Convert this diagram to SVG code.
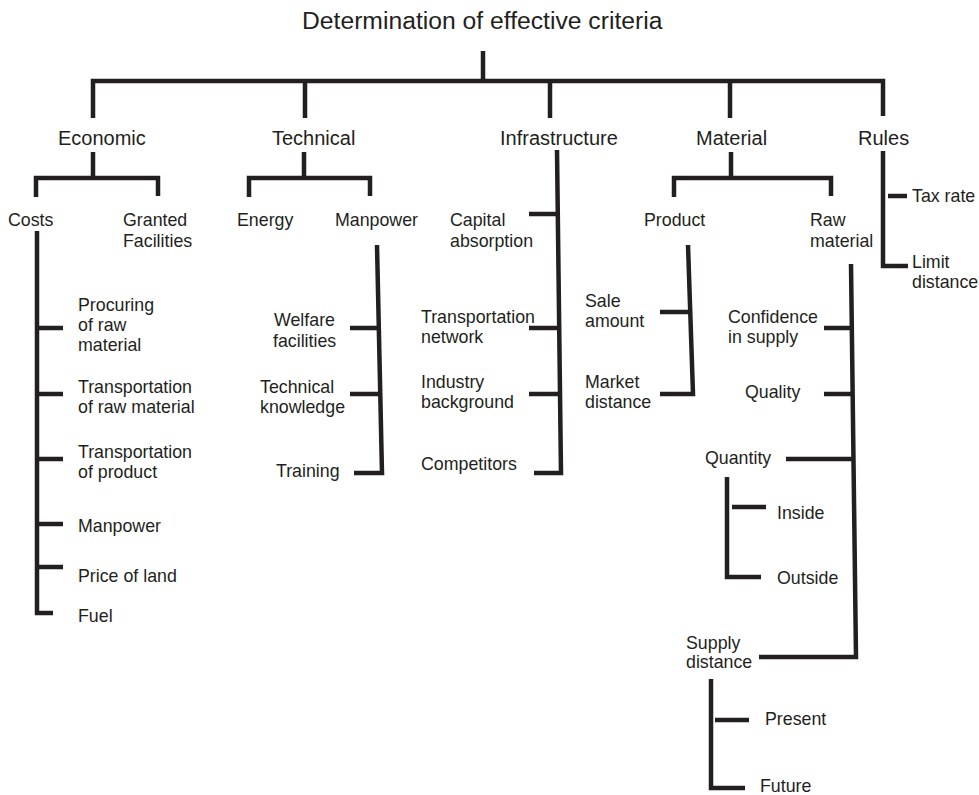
<svg xmlns="http://www.w3.org/2000/svg" width="979" height="795" viewBox="0 0 979 795">
<style>
text{font-family:"Liberation Sans",Arial,sans-serif;font-size:17.8px;fill:#231f20}
.t{font-size:24.7px}
.c{font-size:20px}
#connectors path{fill:none;stroke:#231f20;stroke-width:4.5;stroke-linejoin:miter;stroke-linecap:butt}
</style>
<rect width="979" height="795" fill="#fff"/>
<g id="connectors">
<path d="M483,51 V81"/>
<path d="M93,118 V81 H883 V116"/>
<path d="M305,81 V118"/>
<path d="M550,81 V118"/>
<path d="M730,81 V118"/>
<path d="M93,152 V178"/>
<path d="M36,197 V178 H158 V196"/>
<path d="M304,152 V178"/>
<path d="M249,197 V178 H370 V196"/>
<path d="M731,152 V178"/>
<path d="M674,197 V178 H831 V196"/>
<path d="M883,151 V266 H908"/>
<path d="M888,196 H907"/>
<path d="M37,231 V613 H53"/>
<path d="M37,328 H63 M37,394 H63 M37,459 H63 M37,524 H63 M37,567 H63"/>
<path d="M377,245 L382,473 H354"/>
<path d="M350,328 H378 M350,394 H379"/>
<path d="M557,150 L561,473 H534"/>
<path d="M529,214 H558 M529,328 H559 M529,394 H560"/>
<path d="M688,245 L693,394 H660"/>
<path d="M660,312 H690"/>
<path d="M851,264 L856,657 H759"/>
<path d="M824,328 H853 M824,394 H854 M786,459 H854"/>
<path d="M727,477 V577 H761"/>
<path d="M732,507 H766"/>
<path d="M711,679 V788 H745"/>
<path d="M715,720 H749"/>
</g>
<g id="root"><text class="t" x="302" y="29">Determination of effective criteria</text></g>
<g id="economic"><text class="c" x="58" y="145">Economic</text></g>
<g id="technical"><text class="c" x="272" y="145">Technical</text></g>
<g id="infrastructure"><text class="c" x="500" y="145">Infrastructure</text></g>
<g id="material"><text class="c" x="696" y="145">Material</text></g>
<g id="rules"><text class="c" x="858" y="145">Rules</text></g>
<g id="costs"><text x="8" y="226">Costs</text></g>
<g id="granted-facilities"><text x="123" y="226">Granted</text><text x="123" y="247">Facilities</text></g>
<g id="energy"><text x="237" y="226">Energy</text></g>
<g id="manpower-tech"><text x="335" y="226">Manpower</text></g>
<g id="capital-absorption"><text x="450" y="226">Capital</text><text x="450" y="247">absorption</text></g>
<g id="product"><text x="644" y="226">Product</text></g>
<g id="raw-material"><text x="810" y="226">Raw</text><text x="810" y="247">material</text></g>
<g id="tax-rate"><text x="912" y="202">Tax rate</text></g>
<g id="limit-distance"><text x="912" y="268">Limit</text><text x="912" y="288">distance</text></g>
<g id="procuring"><text x="78" y="311">Procuring</text><text x="78" y="331">of raw</text><text x="78" y="351">material</text></g>
<g id="transport-raw"><text x="78" y="393">Transportation</text><text x="78" y="413">of raw material</text></g>
<g id="transport-product"><text x="78" y="458">Transportation</text><text x="78" y="478">of product</text></g>
<g id="manpower-cost"><text x="78" y="532">Manpower</text></g>
<g id="price-of-land"><text x="78" y="582">Price of land</text></g>
<g id="fuel"><text x="78" y="622">Fuel</text></g>
<g id="welfare"><text x="274" y="326">Welfare</text><text x="273" y="347">facilities</text></g>
<g id="technical-knowledge"><text x="260" y="393">Technical</text><text x="260" y="413">knowledge</text></g>
<g id="training"><text x="276" y="477">Training</text></g>
<g id="transport-network"><text x="421" y="323">Transportation</text><text x="421" y="343">network</text></g>
<g id="industry-background"><text x="421" y="388">Industry</text><text x="421" y="408">background</text></g>
<g id="competitors"><text x="421" y="470">Competitors</text></g>
<g id="sale-amount"><text x="585" y="307">Sale</text><text x="585" y="327">amount</text></g>
<g id="market-distance"><text x="585" y="388">Market</text><text x="585" y="408">distance</text></g>
<g id="confidence"><text x="728" y="323">Confidence</text><text x="728" y="343">in supply</text></g>
<g id="quality"><text x="745" y="398">Quality</text></g>
<g id="quantity"><text x="705" y="464">Quantity</text></g>
<g id="inside"><text x="777" y="519">Inside</text></g>
<g id="outside"><text x="777" y="584">Outside</text></g>
<g id="supply-distance"><text x="686" y="649">Supply</text><text x="686" y="668">distance</text></g>
<g id="present"><text x="765" y="725">Present</text></g>
<g id="future"><text x="760" y="792">Future</text></g>
</svg>
